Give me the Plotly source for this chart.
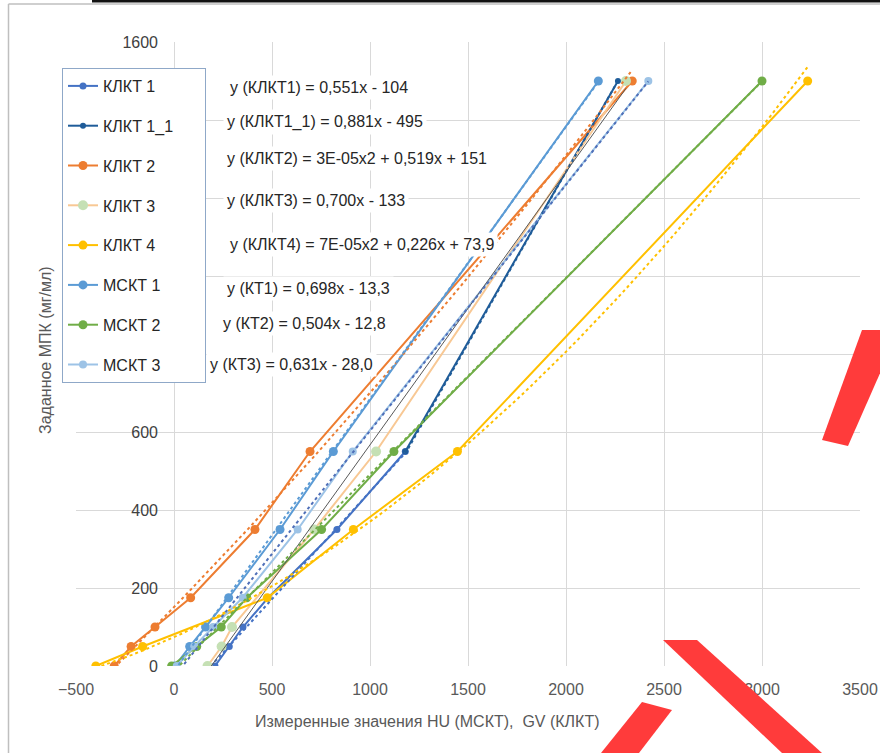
import numpy as np
import plotly.graph_objects as go

# ---------------- data ----------------
klkt1_x = [209, 282, 352, 480, 831, 1180]
klkt1_y = [0, 50, 100, 175, 350, 550]

klkt1_1_x = [1180, 2265]
klkt1_1_y = [550, 1500]

klkt2_x = [-305, -219, -97, 85, 413, 694, 2338]
klkt2_y = [0, 50, 100, 175, 350, 550, 1500]

klkt3_x = [171, 243, 296, 715, 1031, 2306]
klkt3_y = [0, 50, 100, 350, 550, 1500]

klkt4_x = [-399, -160, 476, 915, 1446, 3233]
klkt4_y = [0, 50, 175, 350, 550, 1500]

mskt1_x = [5, 80, 161, 279, 541, 813, 2165]
mskt1_y = [0, 50, 100, 175, 350, 550, 1500]

mskt2_x = [-12, 116, 241, 371, 753, 1122, 3000]
mskt2_y = [0, 50, 100, 175, 350, 550, 1500]

mskt3_x = [14, 103, 200, 350, 631, 912, 2420]
mskt3_y = [0, 50, 100, 175, 350, 550, 1500]

# trendline coefficients as printed on the chart (a2, a1, a0)
trend_klkt1 = [0, 0.551, -104]
trend_klkt1_1 = [0, 0.881, -495]
trend_klkt2 = [3e-05, 0.519, 151]
trend_klkt3 = [0, 0.700, -133]
trend_klkt4 = [7e-05, 0.226, 73.9]
trend_mskt1 = [0, 0.698, -13.3]
trend_mskt2 = [0, 0.504, -12.8]
trend_mskt3 = [0, 0.631, -28.0]

equations = [
    "y (КЛКТ1) = 0,551x - 104",
    "y (КЛКТ1_1) = 0,881x - 495",
    "y (КЛКТ2) = 3E-05x2 + 0,519x + 151",
    "y (КЛКТ3) = 0,700x - 133",
    "y (КЛКТ4) = 7E-05x2 + 0,226x + 73,9",
    "y (КТ1) = 0,698x - 13,3",
    "y (КТ2) = 0,504x - 12,8",
    "y (КТ3) = 0,631x - 28,0",
]

x_ticks = [-500, 0, 500, 1000, 1500, 2000, 2500, 3000, 3500]
y_ticks = [0, 200, 400, 600, 800, 1000, 1200, 1400, 1600]
# 800-1400 are hidden behind the legend in the reference
y_ticktext = ["0", "200", "400", "600", "", "", "", "", "1600"]

# ---------------- figure ----------------
W, H = 880, 753
L, R, T, B = 76, 20, 42, 87
pw, ph = W - L - R, H - T - B


def px(xp):
    return (xp - L) / pw


def py(yp):
    return (H - B - yp) / ph


FONT = "Liberation Sans, Arial, sans-serif"
fig = go.Figure()

series = [
    ("КЛКТ 1", klkt1_x, klkt1_y, "#4472C4", "#4472C4", 7, trend_klkt1,
     dict(color="#4472C4", width=2, dash="dot")),
    ("КЛКТ 1_1" + "\u00a0" * 6, klkt1_1_x, klkt1_1_y, "#1F5C99", "#1F5C99", 6,
     trend_klkt1_1, dict(color="#1F5C99", width=2, dash="dot")),
    ("КЛКТ 2", klkt2_x, klkt2_y, "#ED7D31", "#ED7D31", 9, trend_klkt2,
     dict(color="#ED7D31", width=2, dash="dot")),
    ("КЛКТ 3", klkt3_x, klkt3_y, "#F8C894", "#C5E0B4", 10, trend_klkt3,
     dict(color="#595959", width=1)),
    ("КЛКТ 4", klkt4_x, klkt4_y, "#FFC000", "#FFC000", 9, trend_klkt4,
     dict(color="#FFC000", width=2, dash="dot")),
    ("МСКТ 1", mskt1_x, mskt1_y, "#5B9BD5", "#5B9BD5", 9, trend_mskt1,
     dict(color="#5B9BD5", width=2, dash="dot")),
    ("МСКТ 2", mskt2_x, mskt2_y, "#70AD47", "#70AD47", 9, trend_mskt2,
     dict(color="#70AD47", width=2, dash="dot")),
    ("МСКТ 3", mskt3_x, mskt3_y, "#9DC3E6", "#9DC3E6", 8, trend_mskt3,
     dict(color="#4F6FB8", width=2, dash="dot")),
]

for i, (name, xs, ys, lc, mc, ms, coef, tstyle) in enumerate(series):
    fig.add_trace(go.Scatter(
        x=xs, y=ys, mode="lines+markers", name=name,
        line=dict(color=lc, width=2),
        marker=dict(color=mc, size=ms, line=dict(width=0)),
        legendgroup=f"g{i}",
    ))

for i, (name, xs, ys, lc, mc, ms, coef, tstyle) in enumerate(series):
    tx = np.linspace(min(xs), max(xs), 60)
    ty = coef[0] * tx ** 2 + coef[1] * tx + coef[2]
    fig.add_trace(go.Scatter(
        x=tx, y=ty, mode="lines", line=tstyle, showlegend=False,
        hoverinfo="skip", legendgroup=f"g{i}",
    ))

# equation labels
eq_pos = [(226, 88), (223, 122), (223, 158), (223, 200), (226, 245),
          (223, 288), (219, 323), (206, 365)]
for txt, (xp, yp) in zip(equations, eq_pos):
    fig.add_annotation(
        x=px(xp), y=py(yp), xref="paper", yref="paper", text=txt,
        showarrow=False, xanchor="left", yanchor="middle",
        font=dict(family=FONT, size=16, color="#262626"),
        bgcolor="white", borderpad=3,
    )

# axis titles
fig.add_annotation(
    x=px(427), y=py(722), xref="paper", yref="paper",
    text="Измеренные значения HU (МСКТ),  GV (КЛКТ)", showarrow=False,
    font=dict(family=FONT, size=16, color="#595959"),
    xanchor="center", yanchor="middle",
)
fig.add_annotation(
    x=px(45), y=py(350), xref="paper", yref="paper",
    text="Заданное МПК (мг/мл)", showarrow=False, textangle=-90,
    font=dict(family=FONT, size=16, color="#595959"),
    xanchor="center", yanchor="middle",
)

# outer frame
fig.add_shape(type="line", xref="paper", yref="paper",
              x0=px(8.5), x1=px(8.5), y0=py(4), y1=py(760),
              line=dict(color="#BFBFBF", width=1.5))
fig.add_shape(type="line", xref="paper", yref="paper",
              x0=px(8.5), x1=px(885), y0=py(4), y1=py(4),
              line=dict(color="#BFBFBF", width=1.5))
fig.add_shape(type="line", xref="paper", yref="paper",
              x0=px(92), x1=px(885), y0=py(1), y1=py(1),
              line=dict(color="#111111", width=3))

# red watermark strokes (approximate)
wm_polys = [
    [(663, 640), (697, 640), (822, 753), (782, 753)],
    [(601, 753), (639, 753), (672, 710), (642, 702)],
    [(862, 330), (885, 330), (885, 362), (848, 446), (822, 440)],
]
for poly in wm_polys:
    path = "M " + " L ".join(f"{px(a):.5f},{py(b):.5f}" for a, b in poly) + " Z"
    fig.add_shape(type="path", xref="paper", yref="paper", path=path,
                  fillcolor="#FF3B3B", line=dict(width=0), layer="above")

fig.update_layout(
    width=W, height=H,
    margin=dict(l=L, r=R, t=T, b=B, autoexpand=False),
    paper_bgcolor="white", plot_bgcolor="white",
    font=dict(family=FONT, size=16, color="#595959"),
    showlegend=True,
    legend=dict(
        x=px(62), y=py(68), xanchor="left", yanchor="top",
        bgcolor="white", bordercolor="#8FA8C8", borderwidth=1,
        font=dict(family=FONT, size=16, color="#262626"),
        tracegroupgap=16, itemwidth=30,
    ),
    xaxis=dict(
        range=[-500, 3500], tickvals=x_ticks, showgrid=True,
        gridcolor="#D9D9D9", gridwidth=1, zeroline=False, showline=False,
        ticks="", ticklabelstandoff=12,
        tickfont=dict(family=FONT, size=16, color="#595959"),
    ),
    yaxis=dict(
        range=[0, 1600], tickvals=y_ticks, ticktext=y_ticktext, showgrid=True,
        gridcolor="#D9D9D9", gridwidth=1, zeroline=False, showline=False,
        anchor="free", position=0.125, ticks="", ticklabelstandoff=16,
        tickfont=dict(family=FONT, size=16, color="#404040"),
    ),
)

fig.write_html(
    "out.html",
    config={"displayModeBar": False},
    post_script="document.body.style.margin='0px';"
                "document.body.style.overflow='hidden';",
)
